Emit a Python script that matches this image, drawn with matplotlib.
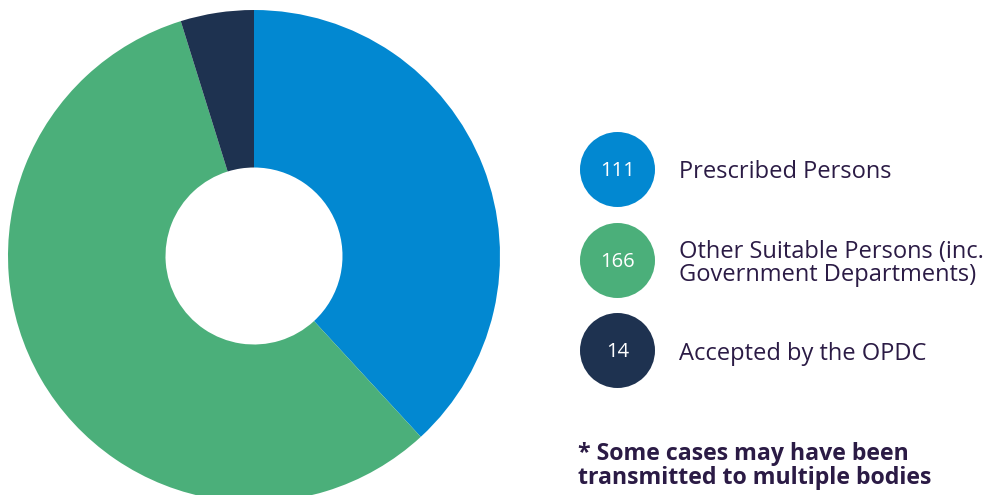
import matplotlib
matplotlib.use("Agg")
import matplotlib.pyplot as plt
from matplotlib.patches import Circle

categories = ["Prescribed Persons",
              "Other Suitable Persons (inc.\nGovernment Departments)",
              "Accepted by the OPDC"]
values = [111, 166, 14]
colors = ["#0288D1", "#4BAF7A", "#1E3250"]
note = "* Some cases may have been\ntransmitted to multiple bodies"
text_color = "#2B1B45"

W, H = 1000, 495
fig = plt.figure(figsize=(W / 100, H / 100), dpi=100)
fig.patch.set_facecolor("white")

# donut: centre (254, 256) px from top-left, outer radius 246 px
cx, cy, R = 254, 256, 246
ax = fig.add_axes([(cx - R) / W, (H - cy - R) / H, 2 * R / W, 2 * R / H])
ax.pie(values, colors=colors, startangle=90, counterclock=False, radius=1,
       wedgeprops=dict(width=1 - 88.5 / 246, linewidth=0))
ax.set_xlim(-1, 1)
ax.set_ylim(-1, 1)
ax.set_aspect("equal")
ax.axis("off")

# legend overlay in pixel coordinates
ov = fig.add_axes([0, 0, 1, 1])
ov.set_xlim(0, W)
ov.set_ylim(H, 0)
ov.axis("off")

font = ["Open Sans", "DejaVu Sans"]
circle_y = [169.5, 260.5, 350.5]
for v, lab, col, y in zip(values, categories, colors, circle_y):
    ov.add_patch(Circle((617.5, y), 37.5, color=col, lw=0))
    ov.text(617.5, y + 1.5, str(v), color="white", ha="center", va="center",
            fontsize=14.5, family=font)
    ov.text(679, y + 3, lab, color=text_color, ha="left", va="center",
            fontsize=17, family=font, linespacing=0.95)

ov.text(578, 466, note, color=text_color, ha="left", va="center",
        fontsize=16.7, fontweight="bold", family=font, linespacing=1.0)

fig.savefig("out.png", dpi=100, facecolor="white")
